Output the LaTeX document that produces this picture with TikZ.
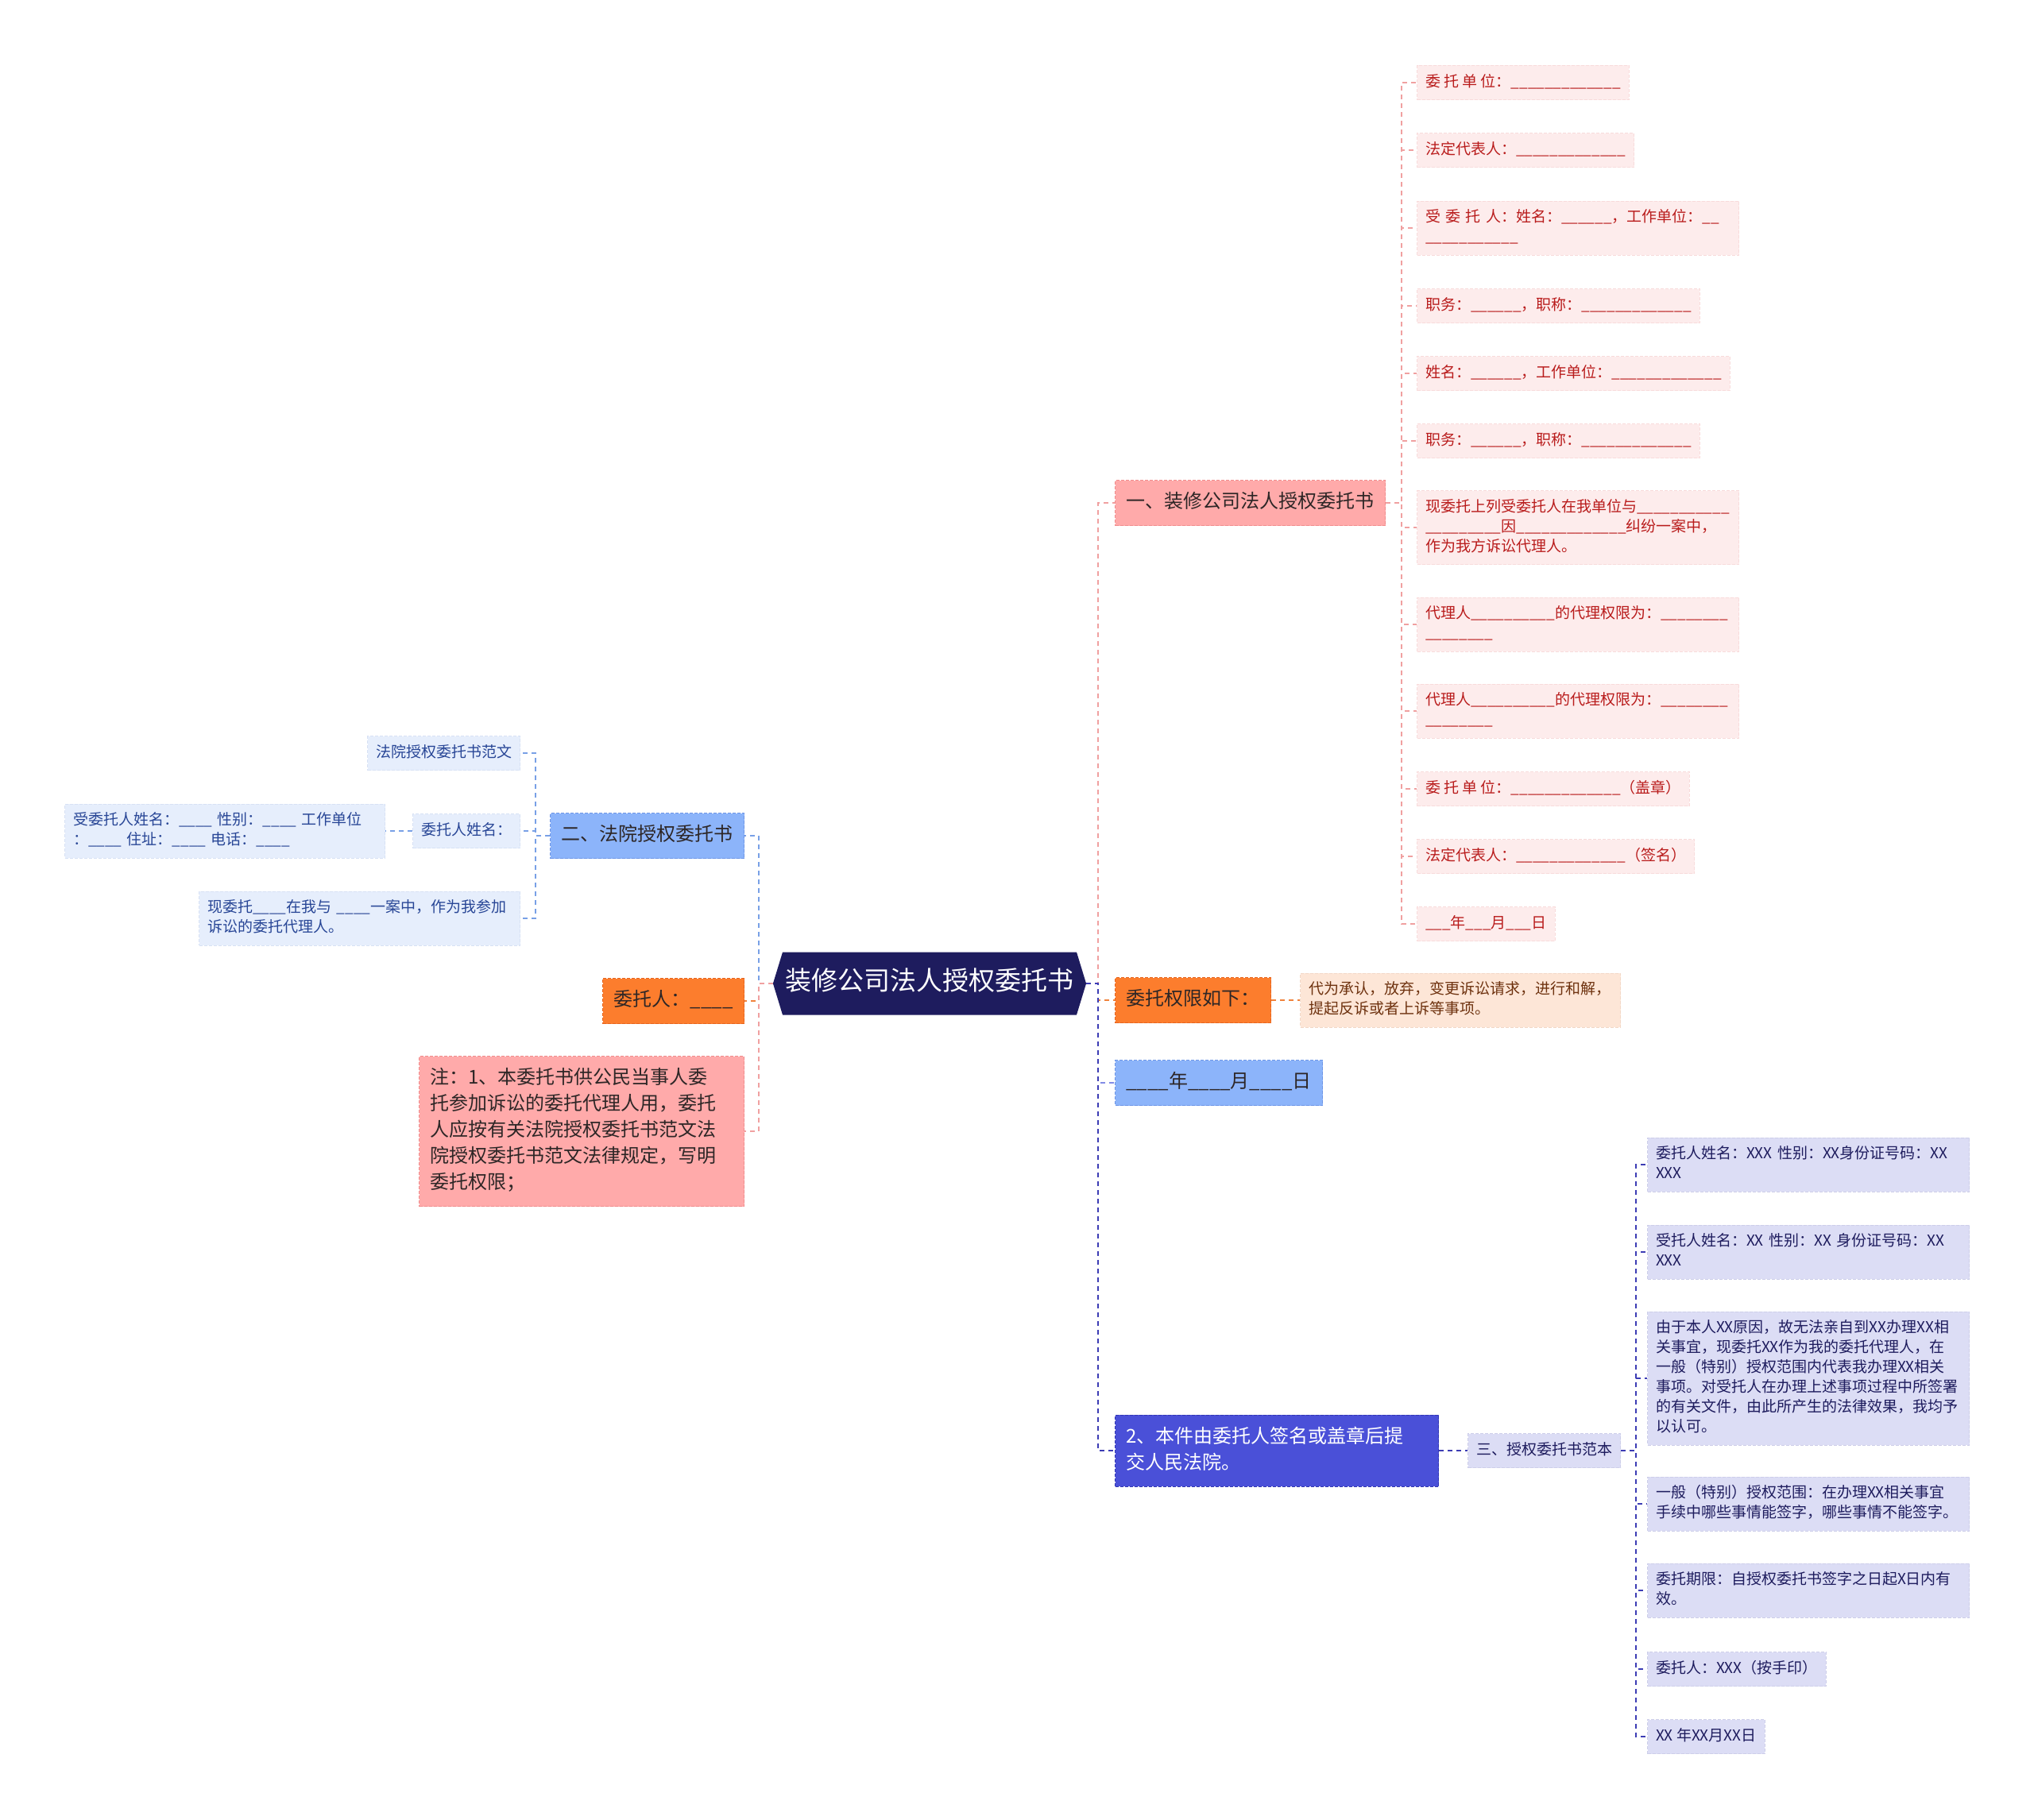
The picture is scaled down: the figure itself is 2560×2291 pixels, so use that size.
\documentclass[tikz,border=0pt]{standalone}
\usepackage{fontspec}
\setmainfont{Noto Sans CJK SC}
\definecolor{rootnavy}{RGB}{30, 28, 94}
\definecolor{textdark}{RGB}{45, 38, 38}
\definecolor{pinkfill}{RGB}{255, 170, 170}
\definecolor{pinkedge}{RGB}{240, 140, 140}
\definecolor{pinkleaf}{RGB}{253, 236, 236}
\definecolor{pinktext}{RGB}{185, 28, 28}
\definecolor{pinkline}{RGB}{240, 160, 160}
\definecolor{bluefill}{RGB}{140, 180, 250}
\definecolor{blueedge}{RGB}{110, 150, 230}
\definecolor{blueleaf}{RGB}{230, 238, 252}
\definecolor{bluetext}{RGB}{40, 70, 150}
\definecolor{blueline}{RGB}{120, 160, 230}
\definecolor{dateline}{RGB}{130, 140, 230}
\definecolor{orangefill}{RGB}{252, 125, 45}
\definecolor{orangeedge}{RGB}{230, 100, 30}
\definecolor{orangeleaf}{RGB}{253, 230, 215}
\definecolor{orangetext}{RGB}{110, 50, 15}
\definecolor{orangeline}{RGB}{240, 130, 60}
\definecolor{indigofill}{RGB}{74, 80, 216}
\definecolor{indigoedge}{RGB}{50, 55, 180}
\definecolor{purpleleaf}{RGB}{220, 221, 245}
\colorlet{purpletext}{rootnavy}
\definecolor{indigoline}{RGB}{60, 60, 180}
\usetikzlibrary{shapes.symbols}
\setlength\parindent{0pt}
\newcommand\rootfont{\fontsize{33}{40}\selectfont}
\newcommand\midfont{\fontsize{24}{33}\selectfont}
\newcommand\leaffont{\fontsize{19}{25}\selectfont}

\begin{document}
\catcode`\_=12
\begin{tikzpicture}[x=1pt, y=-1pt,
    every node/.style={execute at begin node=\strut, execute at end node=\strut},
    rootbox/.style={signal, signal to=east and west, signal pointer angle=146,
        fill=rootnavy, text=white, font=\rootfont, inner xsep=3.5pt, inner ysep=19.5pt},
    midbox/.style={draw=#1edge, fill=#1fill, dash pattern=on 4pt off 2pt, line width=1pt,
        font=\midfont, text=textdark, inner xsep=14pt, inner ysep=12pt, align=left},
    leafbox/.style={draw=#1text!8!#1leaf, fill=#1leaf, dash pattern=on 4pt off 2pt, line width=1pt,
        font=\leaffont, text=#1text, inner xsep=10.5pt, inner ysep=9pt, align=left},
    link/.style={draw=#1, dash pattern=on 6pt off 5pt, line width=2pt}]

    \useasboundingbox (0,0) rectangle (2560,2291);

    % Root
    \node[rootbox] (root) at (1170,1238) {装修公司法人授权委托书};

    % Right side: main branches
    \node[midbox=pink, anchor=west] (sec1) at (1403,633) {一、装修公司法人授权委托书};
    \node[midbox=orange, anchor=west] (perm) at (1403,1259) {委托权限如下：};
    \node[midbox=blue, anchor=west] (date) at (1403,1363) {____年____月____日};
    \node[midbox=indigo, text=white, anchor=west, text width=379pt] (note2) at (1403,1826) {2、本件由委托人签名或盖章后提\\交人民法院。};

    % Leaves of sec1
    \node[leafbox=pink, anchor=west] (r1) at (1783,104) {委 托 单 位：_____________};
    \node[leafbox=pink, anchor=west] (r2) at (1783,189) {法定代表人：_____________};
    \node[leafbox=pink, anchor=west, text width=384pt] (r3) at (1783,287) {受 委 托 人：姓名：______，工作单位：__\\___________};
    \node[leafbox=pink, anchor=west] (r4) at (1783,385) {职务：______，职称：_____________};
    \node[leafbox=pink, anchor=west] (r5) at (1783,470) {姓名：______，工作单位：_____________};
    \node[leafbox=pink, anchor=west] (r6) at (1783,555) {职务：______，职称：_____________};
    \node[leafbox=pink, anchor=west, text width=384pt] (r7) at (1783,664) {现委托上列受委托人在我单位与___________\\_________因_____________纠纷一案中，\\作为我方诉讼代理人。};
    \node[leafbox=pink, anchor=west, text width=384pt] (r8) at (1783,786) {代理人__________的代理权限为：________\\________};
    \node[leafbox=pink, anchor=west, text width=384pt] (r9) at (1783,895) {代理人__________的代理权限为：________\\________};
    \node[leafbox=pink, anchor=west] (r10) at (1783,993) {委 托 单 位：_____________（盖章）};
    \node[leafbox=pink, anchor=west] (r11) at (1783,1078) {法定代表人：_____________（签名）};
    \node[leafbox=pink, anchor=west] (r12) at (1783,1163) {___年___月___日};

    % Leaf of perm
    \node[leafbox=orange, anchor=west, text width=382pt] (permtext) at (1636,1259) {代为承认，放弃，变更诉讼请求，进行和解，\\提起反诉或者上诉等事项。};

    % Sample under note2
    \node[leafbox=purple, anchor=west] (tmpl) at (1847,1826) {三、授权委托书范本};
    \node[leafbox=purple, anchor=west, text width=384pt] (p1) at (2073,1466) {委托人姓名：XXX 性别：XX身份证号码：XX\\XXX};
    \node[leafbox=purple, anchor=west, text width=384pt] (p2) at (2073,1576) {受托人姓名：XX 性别：XX 身份证号码：XX\\XXX};
    \node[leafbox=purple, anchor=west, text width=384pt] (p3) at (2073,1735) {由于本人XX原因，故无法亲自到XX办理XX相\\关事宜，现委托XX作为我的委托代理人，在\\一般（特别）授权范围内代表我办理XX相关\\事项。对受托人在办理上述事项过程中所签署\\的有关文件，由此所产生的法律效果，我均予\\以认可。};
    \node[leafbox=purple, anchor=west, text width=384pt] (p4) at (2073,1893) {一般（特别）授权范围：在办理XX相关事宜\\手续中哪些事情能签字，哪些事情不能签字。};
    \node[leafbox=purple, anchor=west, text width=384pt] (p5) at (2073,2002) {委托期限：自授权委托书签字之日起X日内有\\效。};
    \node[leafbox=purple, anchor=west] (p6) at (2073,2101) {委托人：XXX（按手印）};
    \node[leafbox=purple, anchor=west] (p7) at (2073,2186) {XX 年XX月XX日};

    % Left side: main branches
    \node[midbox=blue, anchor=east] (sec2) at (937,1052) {二、法院授权委托书};
    \node[midbox=orange, anchor=east] (client) at (937,1260) {委托人：____};
    \node[midbox=pink, anchor=east, text width=381pt] (note1) at (937,1424) {注：1、本委托书供公民当事人委\\托参加诉讼的委托代理人用，委托\\人应按有关法院授权委托书范文法\\院授权委托书范文法律规定，写明\\委托权限；};

    % Leaves of sec2
    \node[leafbox=blue, anchor=east] (b1) at (655,948) {法院授权委托书范文};
    \node[leafbox=blue, anchor=east] (b2) at (655,1046) {委托人姓名：};
    \node[leafbox=blue, anchor=east, text width=382pt] (b2a) at (485,1046) {受委托人姓名：____ 性别：____ 工作单位\\：____ 住址：____ 电话：____};
    \node[leafbox=blue, anchor=east, text width=383pt] (b3) at (655,1156) {现委托____在我与 ____一案中，作为我参加\\诉讼的委托代理人。};

    % Connectors
    \draw[link=blueline] (root.west) -- ++(-18,0) |- (sec2.east);
    \draw[link=orangeline] (root.west) -- ++(-18,0) |- (client.east);
    \draw[link=pinkline] (root.west) -- ++(-18,0) |- (note1.east);
    \draw[link=pinkline] (root.east) -- ++(15,0) |- (sec1.west);
    \draw[link=orangeline] (root.east) -- ++(15,0) |- (perm.west);
    \draw[link=dateline] (root.east) -- ++(15,0) |- (date.west);
    \draw[link=indigoline] (root.east) -- ++(15,0) |- (note2.west);

    \draw[link=pinkline] (sec1.east) -- ++(20,0) |- (r1.west);
    \draw[link=pinkline] (sec1.east) -- ++(20,0) |- (r2.west);
    \draw[link=pinkline] (sec1.east) -- ++(20,0) |- (r3.west);
    \draw[link=pinkline] (sec1.east) -- ++(20,0) |- (r4.west);
    \draw[link=pinkline] (sec1.east) -- ++(20,0) |- (r5.west);
    \draw[link=pinkline] (sec1.east) -- ++(20,0) |- (r6.west);
    \draw[link=pinkline] (sec1.east) -- ++(20,0) |- (r7.west);
    \draw[link=pinkline] (sec1.east) -- ++(20,0) |- (r8.west);
    \draw[link=pinkline] (sec1.east) -- ++(20,0) |- (r9.west);
    \draw[link=pinkline] (sec1.east) -- ++(20,0) |- (r10.west);
    \draw[link=pinkline] (sec1.east) -- ++(20,0) |- (r11.west);
    \draw[link=pinkline] (sec1.east) -- ++(20,0) |- (r12.west);

    \draw[link=orangeline] (perm.east) -- (permtext.west);
    \draw[link=indigoline] (note2.east) -- (tmpl.west);

    \draw[link=indigoline] (tmpl.east) -- ++(19,0) |- (p1.west);
    \draw[link=indigoline] (tmpl.east) -- ++(19,0) |- (p2.west);
    \draw[link=indigoline] (tmpl.east) -- ++(19,0) |- (p3.west);
    \draw[link=indigoline] (tmpl.east) -- ++(19,0) |- (p4.west);
    \draw[link=indigoline] (tmpl.east) -- ++(19,0) |- (p5.west);
    \draw[link=indigoline] (tmpl.east) -- ++(19,0) |- (p6.west);
    \draw[link=indigoline] (tmpl.east) -- ++(19,0) |- (p7.west);

    \draw[link=blueline] (sec2.west) -- ++(-18,0) |- (b1.east);
    \draw[link=blueline] (sec2.west) -- ++(-18,0) |- (b2.east);
    \draw[link=blueline] (sec2.west) -- ++(-18,0) |- (b3.east);
    \draw[link=blueline] (b2.west) -- (b2a.east);
\end{tikzpicture}
\end{document}
